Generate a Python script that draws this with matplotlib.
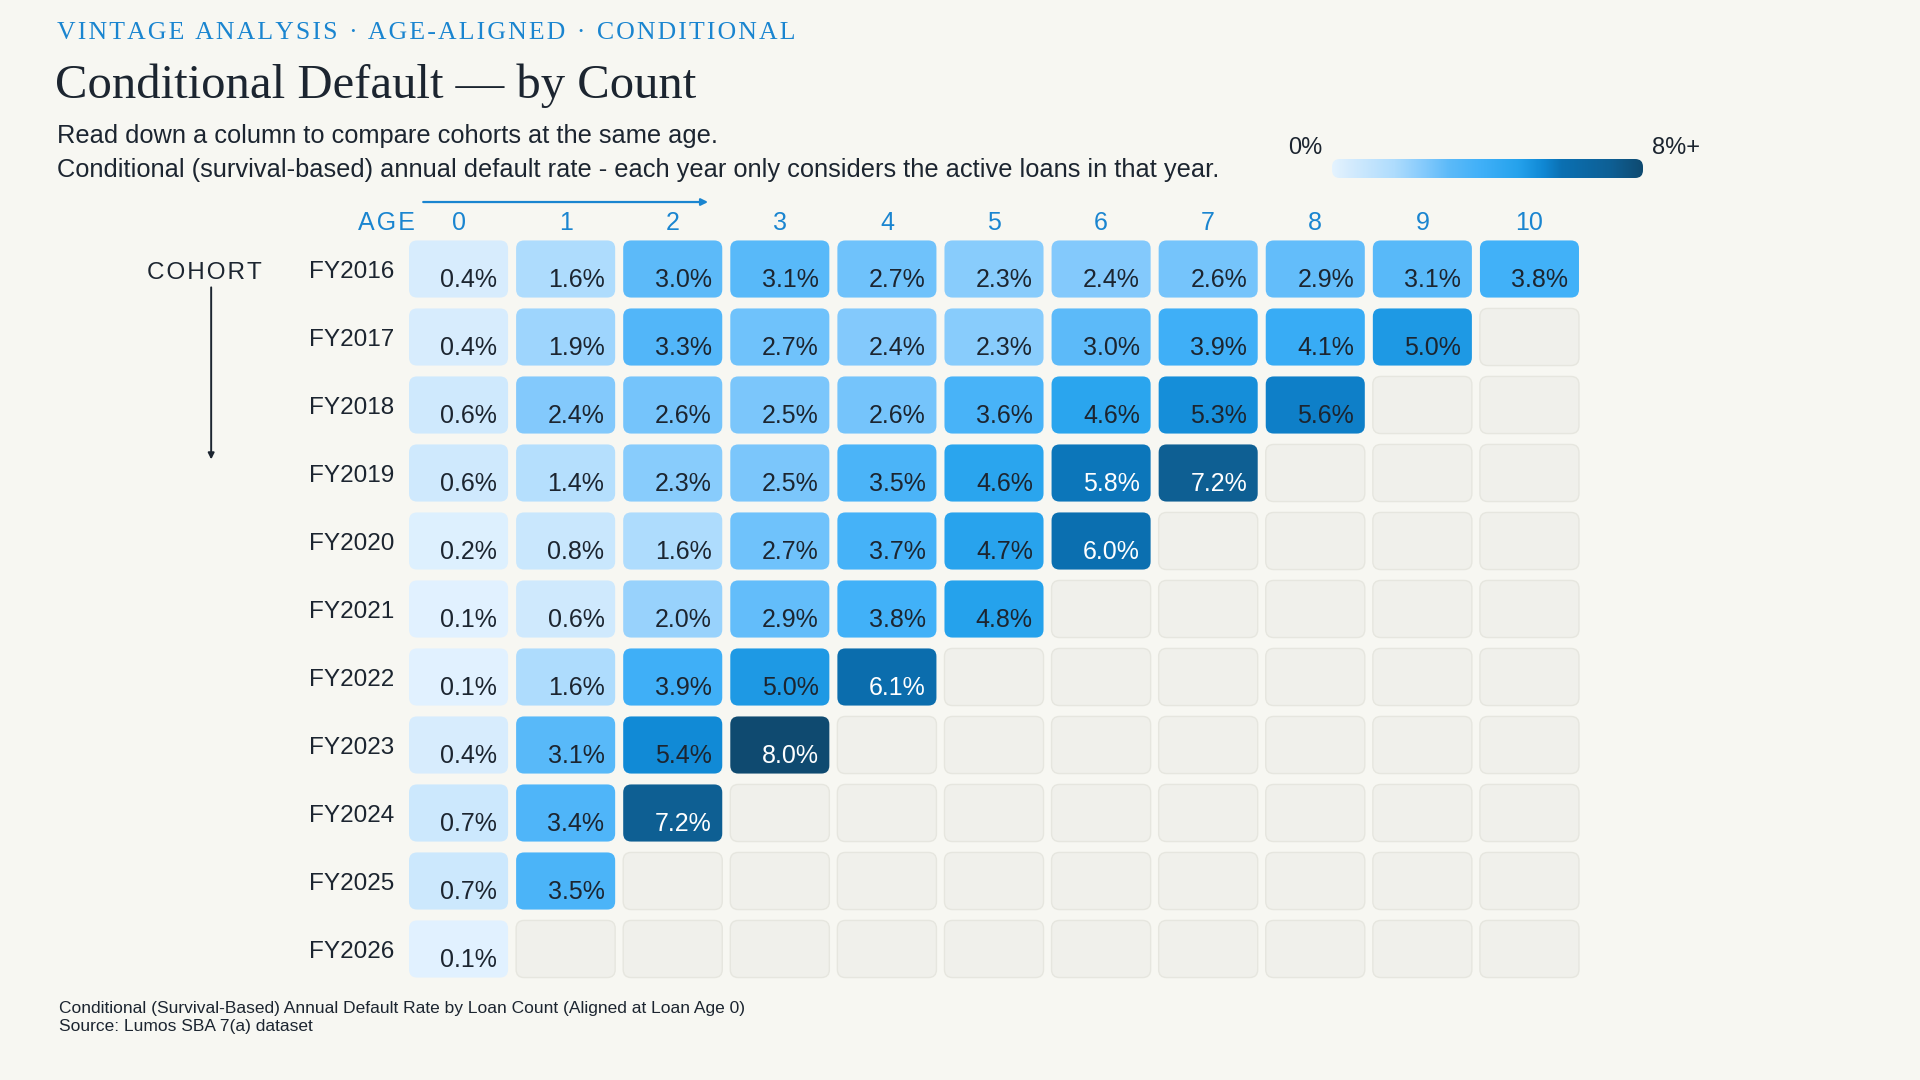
import numpy as np
import matplotlib.pyplot as plt
from matplotlib.colors import LinearSegmentedColormap, Normalize
from matplotlib.patches import FancyBboxPatch

# data
cohorts = ["FY2016", "FY2017", "FY2018", "FY2019", "FY2020", "FY2021",
           "FY2022", "FY2023", "FY2024", "FY2025", "FY2026"]
ages = list(range(11))
fy2016 = [0.4, 1.6, 3.0, 3.1, 2.7, 2.3, 2.4, 2.6, 2.9, 3.1, 3.8]
fy2017 = [0.4, 1.9, 3.3, 2.7, 2.4, 2.3, 3.0, 3.9, 4.1, 5.0]
fy2018 = [0.6, 2.4, 2.6, 2.5, 2.6, 3.6, 4.6, 5.3, 5.6]
fy2019 = [0.6, 1.4, 2.3, 2.5, 3.5, 4.6, 5.8, 7.2]
fy2020 = [0.2, 0.8, 1.6, 2.7, 3.7, 4.7, 6.0]
fy2021 = [0.1, 0.6, 2.0, 2.9, 3.8, 4.8]
fy2022 = [0.1, 1.6, 3.9, 5.0, 6.1]
fy2023 = [0.4, 3.1, 5.4, 8.0]
fy2024 = [0.7, 3.4, 7.2]
fy2025 = [0.7, 3.5]
fy2026 = [0.1]
rates = [fy2016, fy2017, fy2018, fy2019, fy2020, fy2021,
         fy2022, fy2023, fy2024, fy2025, fy2026]

BG = "#f7f7f2"
BLUE = "#1a85d0"
INK = "#1c2530"
SERIF = ["Liberation Serif", "DejaVu Serif"]
SANS = ["Liberation Sans", "DejaVu Sans"]


def spaced(s, sep):
    # fake letter-spacing
    return sep.join(s)


cmap = LinearSegmentedColormap.from_list("vintage", [
    (0.0, "#e4f3ff"), (0.05, "#d6ecfd"), (0.2, "#aedcfd"), (0.3, "#82c9fc"),
    (0.375, "#5cbaf9"), (0.48, "#40b0f8"), (0.6, "#25a2ec"), (0.68, "#1088d4"),
    (0.74, "#0b70b2"), (0.9, "#0e5f94"), (1.0, "#0f4a70")])
norm = Normalize(0, 8)

fig = plt.figure(figsize=(19.2, 10.8), dpi=100, facecolor=BG)

# heatmap axes (pixel layout: column pitch 107, row pitch 68)
W, H = 1920, 1080
ax = fig.add_axes([405 / W, 1 - 983 / H, 1178 / W, 748 / H])
ax.set_xlim(-0.5, 10.5)
ax.set_ylim(10.5, -0.5)
ax.axis("off")
ax.set_facecolor(BG)

cw, ch = 0.925, 0.84
aspect = 107.1 / 68
for i, row in enumerate(rates):
    for j in ages:
        if j < len(row):
            v = row[j]
            fc, ec = cmap(norm(min(v, 8))), "none"
        else:
            fc, ec = "#f0f0eb", "#e6e6df"
        box = FancyBboxPatch((j - cw / 2, i - ch / 2), cw, ch,
                             boxstyle="round,pad=0,rounding_size=0.075",
                             mutation_aspect=aspect, fc=fc, ec=ec, lw=1)
        ax.add_patch(box)
        if j < len(row):
            tc = "white" if v >= 5.75 else INK
            ax.text(j + cw / 2 - 0.1, i + 0.16, f"{v:.1f}%", ha="right",
                    va="center", fontsize=18, color=tc, family=SANS)

# column headers
for j in ages:
    ax.text(j, -0.68, str(j), ha="center", va="center", fontsize=18,
            color=BLUE, family=SANS)
ax.text(-0.41, -0.68, spaced("AGE", "\u200a"), ha="right", va="center",
        fontsize=18, color=BLUE, family=SANS)
ax.annotate("", xy=(2.33, -0.985), xytext=(-0.33, -0.985),
            arrowprops=dict(arrowstyle="-|>", color=BLUE, lw=1.6,
                            mutation_scale=10, shrinkA=0, shrinkB=0),
            annotation_clip=False)

# row labels
for i, c in enumerate(cohorts):
    ax.text(-1.4, i + 0.05, c, ha="left", va="center", fontsize=17.5,
            color=INK, family=SANS)
ax.text(-2.37, 0.06, spaced("COHORT", "\u200a"), ha="center",
        va="center", fontsize=17.5, color=INK, family=SANS)
ax.annotate("", xy=(-2.31, 2.8), xytext=(-2.31, 0.27),
            arrowprops=dict(arrowstyle="-|>", color=INK, lw=1.4,
                            mutation_scale=9, shrinkA=0, shrinkB=0),
            annotation_clip=False)

# titles
kicker = " \u2009\u00b7\u2009 ".join(spaced(w, "\u200a") for w in
                                     ["VINTAGE ANALYSIS", "AGE-ALIGNED",
                                      "CONDITIONAL"])
fig.text(57 / W, 1 - 33 / H, kicker, ha="left", va="center", fontsize=18.5,
         color=BLUE, family=SERIF)
fig.text(55 / W, 1 - 86 / H, "Conditional Default \u2014 by Count",
         ha="left", va="center", fontsize=35, color=INK, family=SERIF)
fig.text(57 / W, 1 - 136 / H,
         "Read down a column to compare cohorts at the same age.",
         ha="left", va="center", fontsize=18.3, color=INK, family=SANS)
fig.text(57 / W, 1 - 170 / H,
         "Conditional (survival-based) annual default rate - each year only "
         "considers the active loans in that year.",
         ha="left", va="center", fontsize=18.3, color=INK, family=SANS)

# footer
fig.text(59 / W, 1 - 1008 / H,
         "Conditional (Survival-Based) Annual Default Rate by Loan Count "
         "(Aligned at Loan Age 0)",
         ha="left", va="center", fontsize=12.5, color=INK, family=SANS)
fig.text(59 / W, 1 - 1026 / H, "Source: Lumos SBA 7(a) dataset",
         ha="left", va="center", fontsize=12.5, color=INK, family=SANS)

# colour legend
cax = fig.add_axes([1332 / W, 1 - 178 / H, 311 / W, 19 / H])
cax.axis("off")
grad = np.linspace(0, 8, 256).reshape(1, -1)
im = cax.imshow(grad, cmap=cmap, norm=norm, aspect="auto",
                extent=(0, 1, 0, 1))
clip = FancyBboxPatch((0, 0), 1, 1, boxstyle="round,pad=0,rounding_size=0.025",
                      mutation_aspect=311 / 19, transform=cax.transAxes,
                      fc="none", ec="none")
cax.add_patch(clip)
im.set_clip_path(clip)
fig.text(1305 / W, 1 - 148 / H, "0%", ha="center", va="center", fontsize=17,
         color=INK, family=SANS)
fig.text(1652 / W, 1 - 148 / H, "8%+", ha="left", va="center", fontsize=17,
         color=INK, family=SANS)

fig.savefig("out.png", dpi=100, facecolor=BG)
